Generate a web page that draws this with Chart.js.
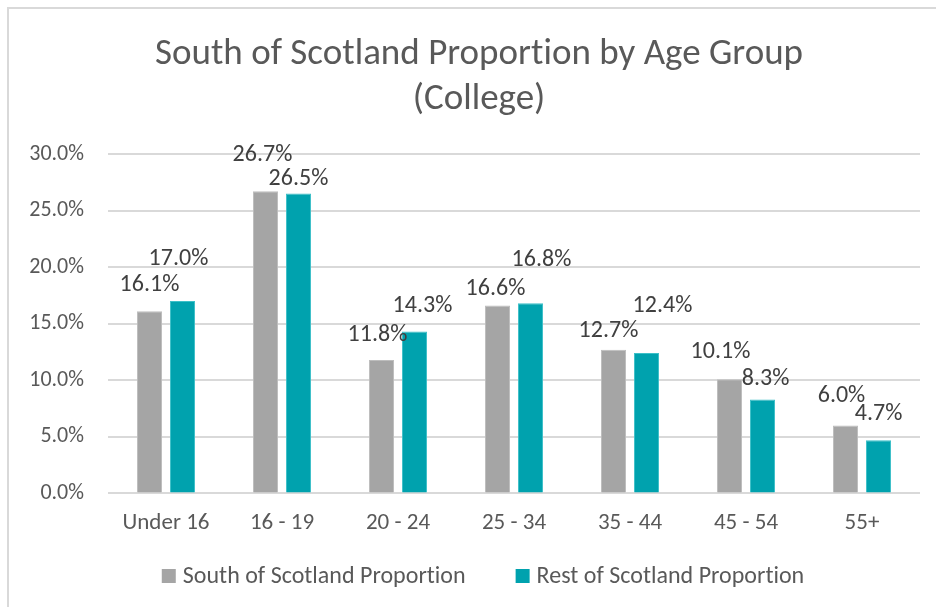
<!DOCTYPE html>
<html>
<head>
<meta charset="utf-8">
<script src="https://cdn.jsdelivr.net/npm/chart.js@4"></script>
<style>
  html, body { margin: 0; padding: 0; background: #fff; overflow: hidden; }
  #frame { position: absolute; left: 7px; top: 7px; width: 1000px; height: 700px;
           border: 2px solid #d9d9d9; box-sizing: border-box; }
  #wrap { position: absolute; left: 0; top: 0; width: 936px; height: 607px; }
</style>
</head>
<body>
<div id="frame"></div>
<div id="wrap"><canvas id="chart" width="936" height="607"></canvas></div>
<script>
// Age bands and the share of college students in each
const ageGroups = ['Under 16', '16 - 19', '20 - 24', '25 - 34', '35 - 44', '45 - 54', '55+'];
const southShare = [16.1, 26.7, 11.8, 16.6, 12.7, 10.1, 6.0];
const restShare  = [17.0, 26.5, 14.3, 16.8, 12.4, 8.3, 4.7];
const yTicks = [0, 5, 10, 15, 20, 25, 30];
const seriesNames = ['South of Scotland Proportion', 'Rest of Scotland Proportion'];
const seriesColors = ['#A5A5A5', '#00A2AE'];
const titleLines = ['South of Scotland Proportion by Age Group', '(College)'];

// Hand-placed label nudges (dx, dy in px from the top centre of each bar)
const labelNudge = [
  [[0, -26], [-3, -36], [-4, -25], [-2, -17], [-5, -19], [-9, -27], [-4, -30]],
  [[-4, -42], [0, -15], [8, -26], [11, -43], [16, -47], [3, -20], [0, -26]]
];

const FONT = 'Carlito, Lato, "Liberation Sans", sans-serif';

// A hair of letter spacing keeps the "ti" pair as separate glyphs
const noLigatures = {
  id: 'noLigatures',
  beforeDraw(chart) { chart.ctx.letterSpacing = '0.01px'; }
};

// Two-line heading, centred over the whole frame
const heading = {
  id: 'heading',
  afterDraw(chart) {
    const ctx = chart.ctx;
    ctx.save();
    ctx.font = '37px ' + FONT;
    ctx.fillStyle = '#595959';
    ctx.textAlign = 'center';
    ctx.textBaseline = 'middle';
    titleLines.forEach((line, i) => ctx.fillText(line, 479, 55 + i * 45));
    ctx.restore();
  }
};

const valueLabels = {
  id: 'valueLabels',
  afterDatasetsDraw(chart) {
    const ctx = chart.ctx;
    ctx.save();
    ctx.font = '24px ' + FONT;
    ctx.fillStyle = '#404040';
    ctx.textAlign = 'center';
    ctx.textBaseline = 'middle';
    chart.data.datasets.forEach((ds, di) => {
      const meta = chart.getDatasetMeta(di);
      meta.data.forEach((bar, i) => {
        const [dx, dy] = labelNudge[di][i];
        ctx.fillText(ds.data[i].toFixed(1) + '%', bar.x + dx, bar.y + dy);
      });
    });
    ctx.restore();
  }
};

// Legend row under the axis: square swatch followed by the series name
const bottomLegend = {
  id: 'bottomLegend',
  afterDraw(chart) {
    const ctx = chart.ctx;
    const box = 14, textGap = 7, itemGap = 50, cy = 576, cx = 483;
    ctx.save();
    ctx.font = '24px ' + FONT;
    ctx.textBaseline = 'middle';
    ctx.textAlign = 'left';
    const widths = seriesNames.map(n => ctx.measureText(n).width);
    const total = widths.reduce((a, w) => a + box + textGap + w, 0) + itemGap * (seriesNames.length - 1);
    let x = cx - total / 2;
    seriesNames.forEach((name, i) => {
      ctx.fillStyle = seriesColors[i];
      ctx.fillRect(x, cy - box / 2, box, box);
      x += box + textGap;
      ctx.fillStyle = '#595959';
      ctx.fillText(name, x, cy + 1);
      x += widths[i] + itemGap;
    });
    ctx.restore();
  }
};

new Chart(document.getElementById('chart'), {
  type: 'bar',
  data: {
    labels: ageGroups,
    datasets: [
      { label: seriesNames[0], data: southShare, backgroundColor: seriesColors[0],
        borderColor: '#BDBDBD', borderWidth: 1, borderSkipped: 'bottom',
        categoryPercentage: 0.569, barPercentage: 0.76 },
      { label: seriesNames[1], data: restShare, backgroundColor: seriesColors[1],
        borderColor: '#3CC0C8', borderWidth: 1, borderSkipped: 'bottom',
        categoryPercentage: 0.569, barPercentage: 0.76 }
    ]
  },
  options: {
    responsive: false,
    animation: false,
    layout: { padding: { left: 20, right: 16, top: 154, bottom: 62 } },
    plugins: {
      title: { display: false },
      legend: { display: false },
      tooltip: { enabled: false }
    },
    scales: {
      x: {
        grid: { display: false },
        border: { display: false },
        ticks: { color: '#595959', font: { family: FONT, size: 23 }, padding: 8 }
      },
      y: {
        min: 0, max: 30,
        afterBuildTicks(scale) { scale.ticks = yTicks.map(v => ({ value: v })); },
        afterFit(scale) { scale.width = 88; },
        grid: { color: '#d9d9d9', lineWidth: 2, drawTicks: false },
        border: { display: false },
        ticks: {
          color: '#595959', font: { family: FONT, size: 22 }, padding: 24,
          callback: v => v.toFixed(1) + '%'
        }
      }
    }
  },
  plugins: [noLigatures, heading, valueLabels, bottomLegend]
});
</script>
</body>
</html>
